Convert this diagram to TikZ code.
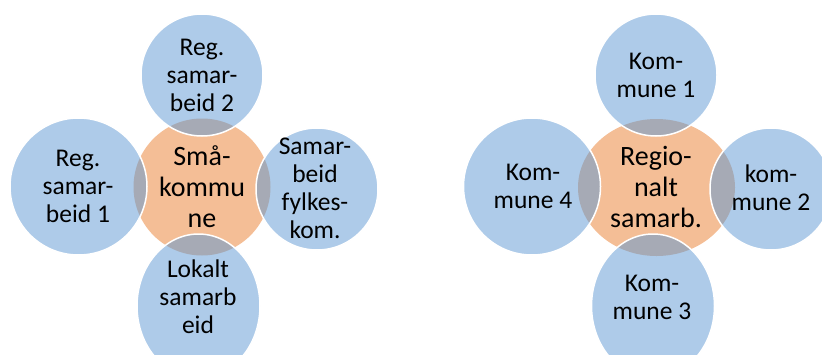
\documentclass[tikz,border=0pt]{standalone}
\usepackage{fontspec}
\setmainfont{Carlito}
\usetikzlibrary{shapes.geometric}
\definecolor{cblue}{RGB}{174,203,233}
\definecolor{corange}{RGB}{244,190,150}
\definecolor{cgray}{RGB}{166,170,181}
\begin{document}
\begin{tikzpicture}[x=1pt,y=-1pt,
  disc/.style={circle,fill=cblue,inner sep=0pt,minimum size=#1},
  oval/.style={ellipse,fill=cblue,inner sep=0pt,minimum width=123pt,minimum height=144pt},
  ring/.style={draw=white,line width=1.5pt},
  small/.style={align=center,font=\fontsize{25.5}{28}\selectfont,inner sep=0pt,text=black},
  big/.style={align=center,font=\fontsize{28}{31}\selectfont,inner sep=0pt,text=black}]
\useasboundingbox (0,0) rectangle (822,354);
\clip (0,0) rectangle (822,354);
% ---------- left diagram ----------
\node[circle,fill=corange,inner sep=0pt,minimum size=137pt] (c1) at (202,187) {};
\node[disc=122pt] (t1) at (202,75) {};
\node[disc=137pt] (l1) at (78.5,186.5) {};
\node[disc=122pt] (r1) at (317,189) {};
\node[oval] (b1) at (198.5,306) {};
\begin{scope}
  \clip (c1.center) circle (68.5pt);
  \fill[cgray] (t1.center) circle (61pt) (l1.center) circle (68.5pt)
    (r1.center) circle (61pt) (b1.center) ellipse (61.5pt and 72pt);
\end{scope}
\draw[ring] (t1.center) circle (61pt) (l1.center) circle (68.5pt)
  (r1.center) circle (61pt) (b1.center) ellipse (61.5pt and 72pt);
\node[big] (c1t) at (202,187) {Små-\\kommu\\ne};
\node[small] (t1t) at (202,75) {Reg.\\samar-\\beid 2};
\node[small] (l1t) at (78,186) {Reg.\\samar-\\beid 1};
\node[small] (r1t) at (315,188) {Samar-\\beid\\fylkes-\\kom.};
\node[small] (b1t) at (198,297) {Lokalt\\samarb\\eid};
% ---------- right diagram ----------
\node[ellipse,fill=corange,inner sep=0pt,minimum width=157pt,minimum height=137pt] (c2) at (656.5,187.5) {};
\node[disc=122pt] (t2) at (656,75) {};
\node[disc=137pt] (l2) at (532,186.5) {};
\node[disc=122pt] (r2) at (771,189) {};
\node[oval] (b2) at (653,306) {};
\begin{scope}
  \clip (c2.center) ellipse (78.5pt and 68.5pt);
  \fill[cgray] (t2.center) circle (61pt) (l2.center) circle (68.5pt)
    (r2.center) circle (61pt) (b2.center) ellipse (61.5pt and 72pt);
\end{scope}
\draw[ring] (t2.center) circle (61pt) (l2.center) circle (68.5pt)
  (r2.center) circle (61pt) (b2.center) ellipse (61.5pt and 72pt);
\node[big] (c2t) at (656,187) {Regio-\\nalt\\samarb.};
\node[small] (t2t) at (656,75) {Kom-\\mune 1};
\node[small] (l2t) at (533,186) {Kom-\\mune 4};
\node[small] (r2t) at (771,187.5) {kom-\\mune 2};
\node[small] (b2t) at (652,297.5) {Kom-\\mune 3};
\end{tikzpicture}
\end{document}
